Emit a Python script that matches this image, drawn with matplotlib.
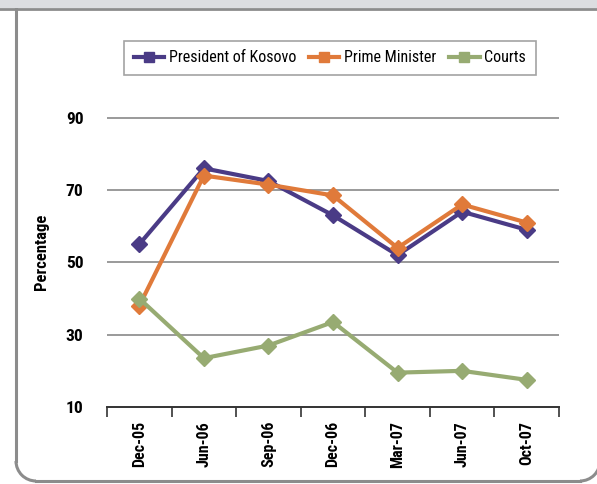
import matplotlib
matplotlib.use("Agg")
import matplotlib.pyplot as plt
from matplotlib.lines import Line2D
from matplotlib.patches import Arc, Rectangle
from matplotlib.transforms import IdentityTransform

# --- Data ---
periods = ["Dec-05", "Jun-06", "Sep-06", "Dec-06", "Mar-07", "Jun-07", "Oct-07"]
president = [55, 76, 72.5, 63, 52, 64, 59]
prime_minister = [38, 74, 71.5, 68.5, 54, 66, 61]
courts = [40, 23.5, 27, 33.5, 19.5, 20, 17.5]
y_ticks = [10, 30, 50, 70, 90]

# --- Style ---
PURPLE = "#4a3b86"
ORANGE = "#e07a3a"
GREEN = "#97ab72"
GRID = "#9a9a9a"
FRAME = "#8c8c8c"
FONT = ["Roboto Condensed", "Liberation Sans Narrow", "Roboto", "DejaVu Sans"]
plt.rcParams["font.family"] = FONT

W, H = 597, 484
fig = plt.figure(figsize=(W / 100, H / 100), dpi=100)

# outer frame in pixels (origin bottom-left): left side, bottom, rounded bottom corners
px = IdentityTransform()
R = 20
FL, FB, FR = 16, 3, 580
frame_kw = dict(color=FRAME, linewidth=2.2, zorder=-1)
fig.patches.append(Rectangle((0, H - 8), W, 8, transform=px,
                             facecolor="#dcdde0", edgecolor="none", zorder=-1))
fig.lines.append(Line2D([0, W], [H - 8.5] * 2, transform=px, color=FRAME,
                        linewidth=2, zorder=-1))
fig.lines.append(Line2D([FL, FL], [H, FB + R], transform=px, **frame_kw))
fig.lines.append(Line2D([FL + R, FR], [FB, FB], transform=px, **frame_kw))
fig.patches.append(Arc((FL + R, FB + R), 2 * R, 2 * R, theta1=180, theta2=270,
                       transform=px, edgecolor=FRAME, linewidth=2.2, zorder=-1))
fig.patches.append(Arc((FR, FB + R), 2 * R, 2 * R, theta1=270, theta2=360,
                       transform=px, edgecolor=FRAME, linewidth=2.2, zorder=-1))

ax = fig.add_axes([107 / W, 1 - 407 / H, 452 / W, 311 / H])
ax.patch.set_visible(False)
x = range(len(periods))
series = [(president, PURPLE, "President of Kosovo"),
          (prime_minister, ORANGE, "Prime Minister"),
          (courts, GREEN, "Courts")]
for vals, col, name in series:
    ax.plot(x, vals, color=col, linewidth=3, marker="D", markersize=8,
            markeredgecolor=col, label=name, zorder=3)

ax.set_xlim(-0.5, len(periods) - 0.5)
ax.set_ylim(10, 96)
ax.set_yticks(y_ticks)
ax.set_yticklabels([str(t) for t in y_ticks], fontsize=12.5, fontweight="bold")
ax.tick_params(axis="y", length=0, pad=17)
ax.set_xticks([i - 0.5 for i in range(len(periods) + 1)])
ax.set_xticklabels([])
ax.set_xticks(list(x), minor=True)
ax.set_xticklabels(periods, minor=True, rotation=90, fontsize=11.5, fontweight="bold")
ax.tick_params(axis="x", which="major", direction="out", length=7, width=1.2, color="#333333")
ax.tick_params(axis="x", which="minor", length=0, pad=10)

for t in y_ticks[1:]:
    ax.axhline(t, color=GRID, linewidth=1.4, zorder=1)
for s in ["top", "right", "left"]:
    ax.spines[s].set_visible(False)
ax.spines["bottom"].set_color("#333333")
ax.spines["bottom"].set_linewidth(1.4)

ax.set_ylabel("Percentage", fontsize=12, fontweight="bold", labelpad=12)

handles = [Line2D([], [], color=col, linewidth=3, marker="s", markersize=7)
           for _, col, _ in series]
leg = fig.legend(handles, [s[2] for s in series], loc="center",
                 bbox_to_anchor=(330 / W, 1 - 58 / H), ncol=3, fontsize=11.5,
                 frameon=True, fancybox=False, handlelength=1.9, handletextpad=0.3,
                 columnspacing=0.8, borderpad=0.6)
leg.get_frame().set_edgecolor(FRAME)
leg.get_frame().set_linewidth(1.2)

fig.savefig("out.png", dpi=100)
